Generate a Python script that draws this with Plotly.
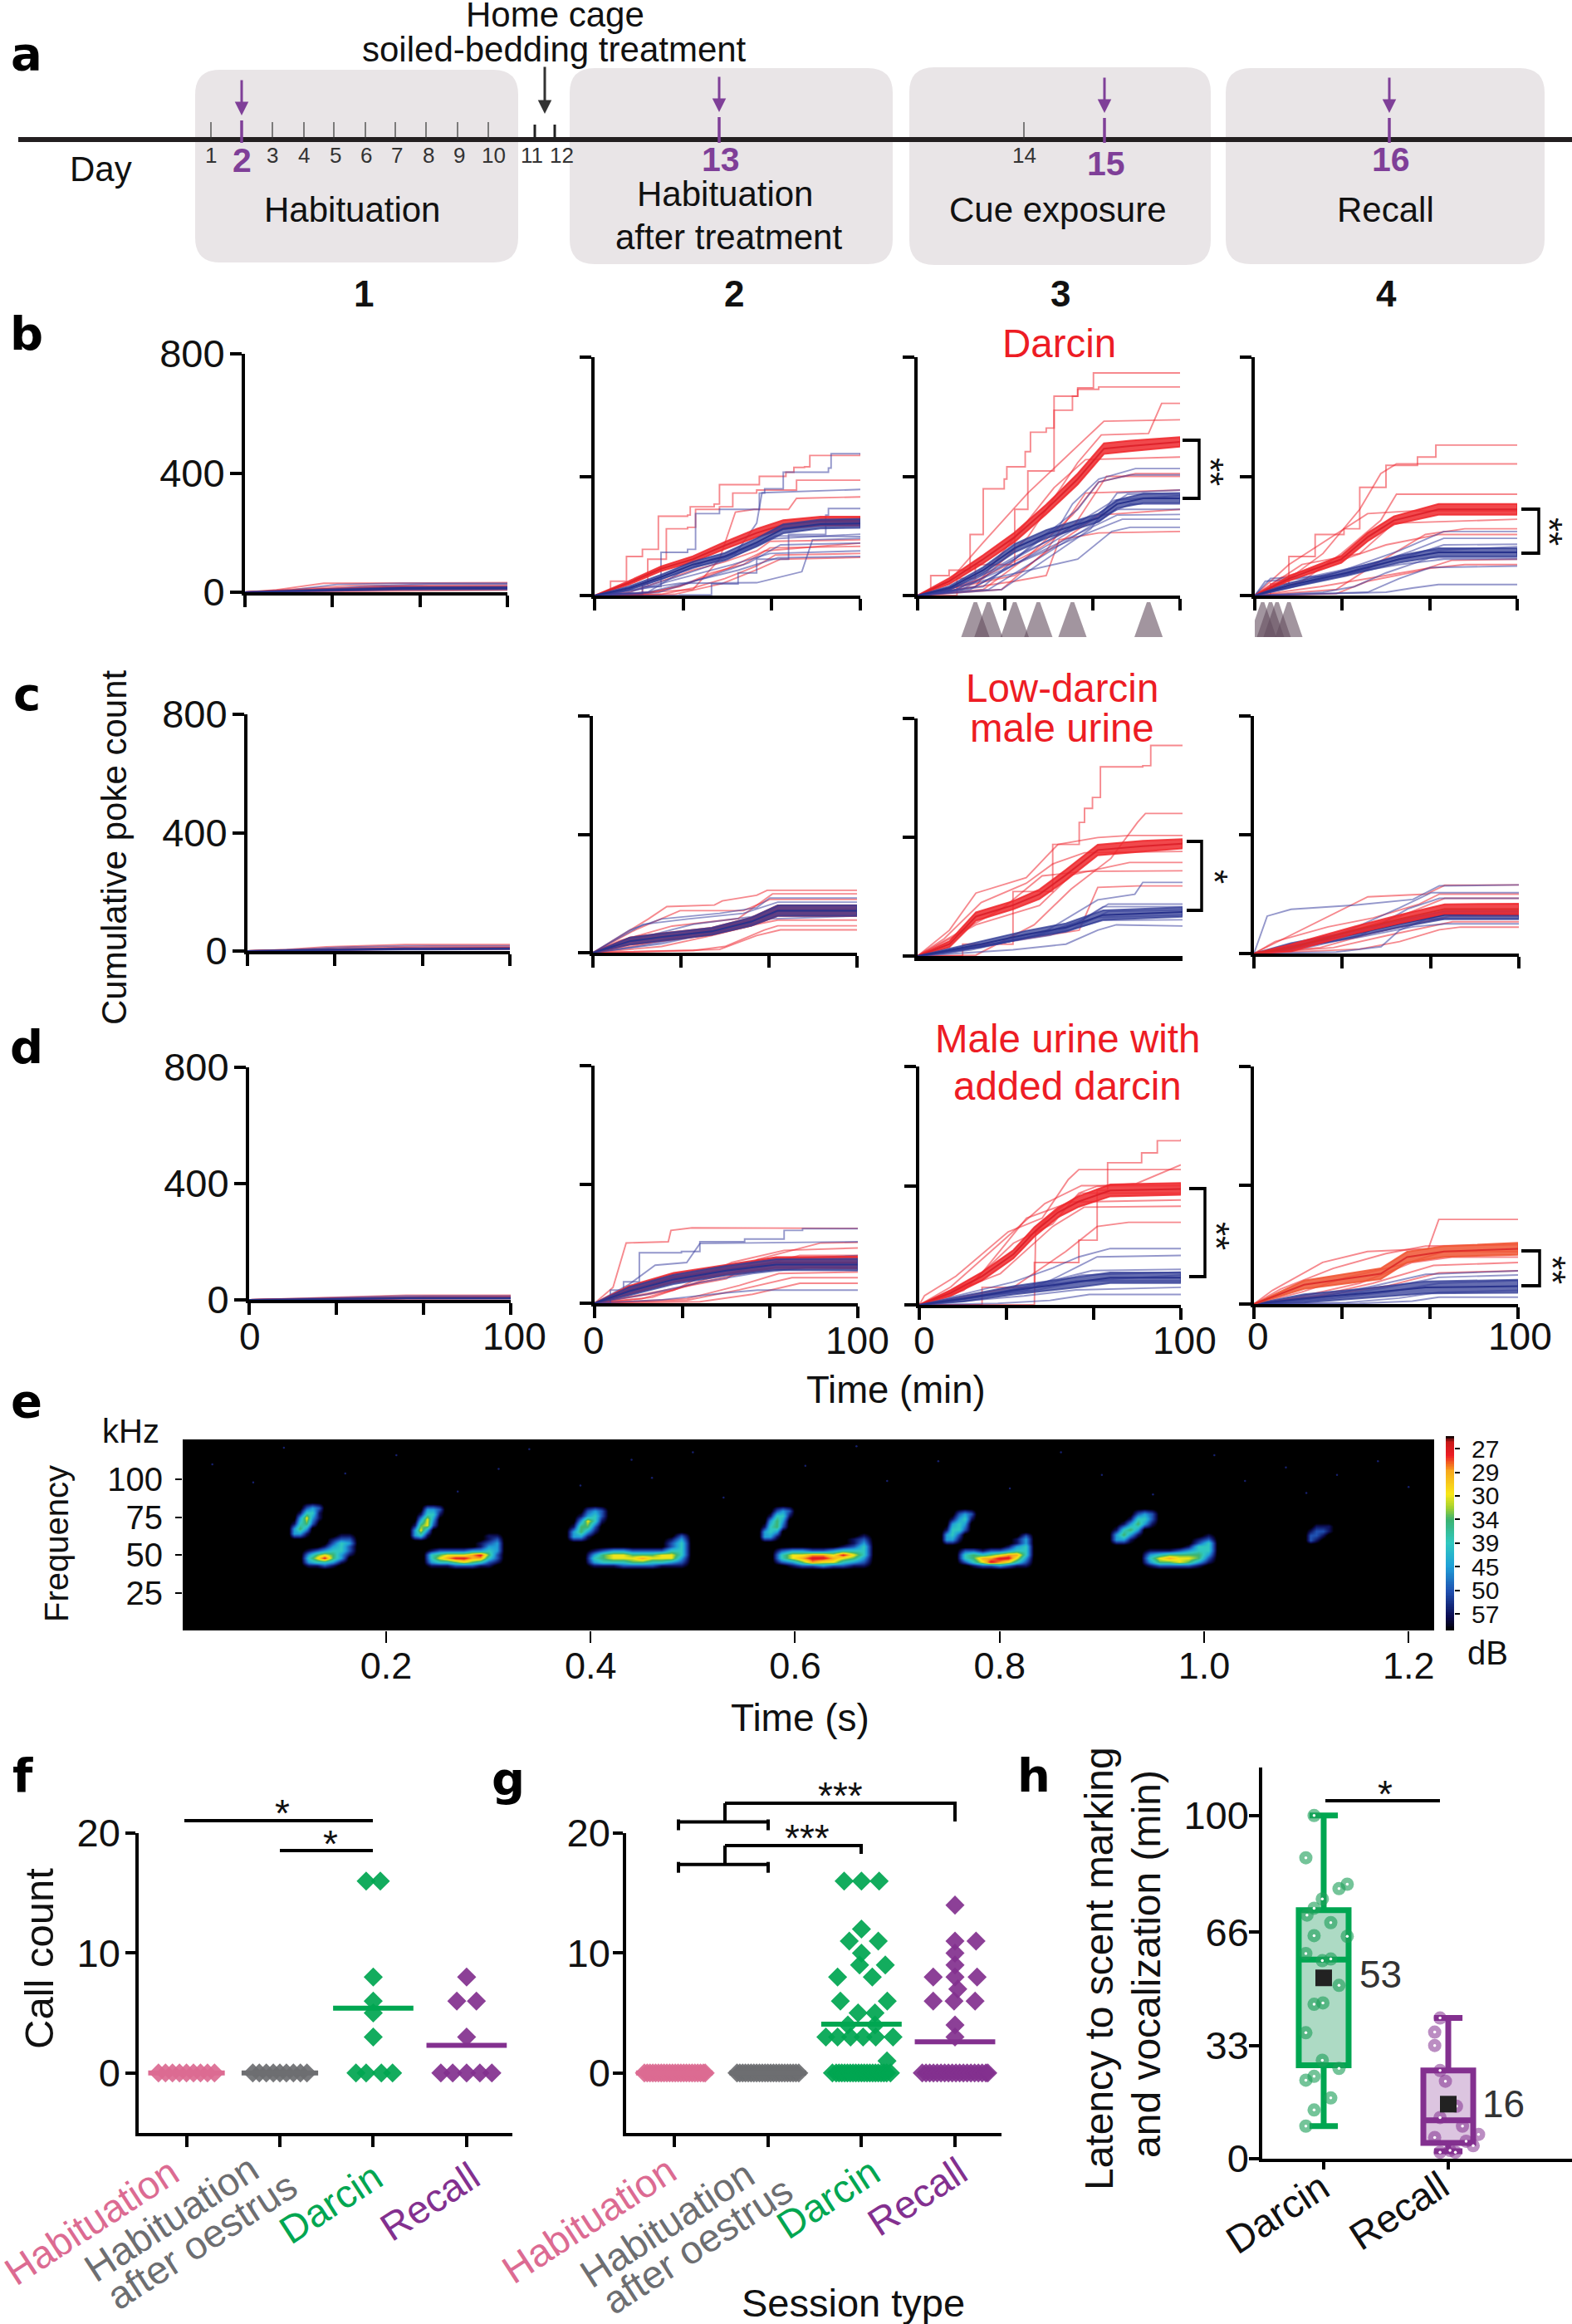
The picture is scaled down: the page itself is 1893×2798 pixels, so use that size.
import numpy as np
import plotly.graph_objs as go

W, H = 1893, 2798
FONT = 'Liberation Sans'

RED = 'rgba(238,40,50,0.55)'
BLUE = 'rgba(60,66,160,0.55)'
PURPLE = '#7f3f98'
PINK = '#dc6b92'
GRAY = '#6d6e71'
GREEN = '#00a651'
VIOLET = '#83308f'
TITLE_RED = '#ed1c24'

# --- panel a: days on the timeline
SMALL_DAYS = ['1', '3', '4', '5', '6', '7', '8', '9', '10', '14']
SESSION_DAYS = ['2', '13', '15', '16']
TREATMENT_DAYS = ['11', '12']

# --- panels b-d: cumulative poke count, (minute, count)
# every curve starts at the origin and stays flat after its last point
B1_RED = [[(12, 8), (30, 30), (100, 32)], [(20, 10), (40, 22), (100, 24)], [(25, 8), (50, 18)], [(30, 5), (60, 12)], [(40, 3), (80, 7)]]
B1_BLUE = [[(18, 8), (35, 26), (60, 30)], [(22, 6), (45, 20), (70, 27)], [(30, 7), (60, 14)], [(35, 4), (70, 10)]]
B1_MEAN_RED = [(0, 0, 0), (30, 8, 3), (60, 14, 4), (100, 15, 4)]
B1_MEAN_BLUE = [(0, 0, 0), (30, 7, 3), (60, 13, 4), (100, 14, 4)]

B2_RED = [
    [(6, 48), (12, 131), (18, 155), (24, 266), (35, 270), (36, 298), (45, 307), (47, 372), (61, 372), (62, 400), (72, 414), (75, 430), (79, 432), (81, 470), (100, 477)],
    [(18, 39), (20, 122), (27, 224), (35, 229), (38, 289), (47, 298), (52, 344), (61, 354), (73, 354), (76, 387), (100, 389)],
    [(37, 20), (47, 122), (53, 280), (60, 289), (73, 289), (76, 326), (100, 331)],
    [(13, 11), (25, 48), (37, 85), (49, 113), (61, 150), (66, 182), (100, 187)],
    [(18, 7), (32, 30), (44, 76), (56, 104), (66, 160), (100, 165)],
    [(25, 4), (37, 25), (49, 57), (61, 99), (68, 136), (100, 141)],
    [(20, 6), (35, 40), (50, 90), (64, 150), (100, 176)],
    [(30, 4), (48, 40), (62, 90), (70, 122), (100, 128)],
]
B2_BLUE = [
    [(3, 6), (18, 30), (25, 145), (35, 155), (38, 275), (47, 289), (62, 344), (64, 358), (71, 414), (88, 428), (89, 476), (100, 477)],
    [(20, 11), (32, 76), (44, 122), (53, 140), (61, 243), (63, 345), (100, 356)],
    [(32, 2), (44, 39), (54, 76), (61, 122), (73, 205), (87, 270), (88, 292), (100, 292)],
    [(32, 41), (61, 43), (78, 80), (82, 187), (100, 192)],
    [(13, 11), (32, 57), (52, 104), (66, 141), (100, 150)],
    [(20, 11), (37, 48), (54, 85), (69, 127), (100, 131)],
    [(15, 20), (30, 60), (50, 120), (66, 190), (100, 206)],
    [(24, 10), (42, 60), (58, 110), (70, 170), (100, 176)],
    [(10, 12), (30, 70), (50, 130), (68, 200), (100, 198)],
]
B2_MEAN_RED = [(0, 0, 0), (13, 43, 6), (25, 90, 8), (37, 122, 10), (49, 168, 12), (61, 210, 14), (71, 238, 15), (85, 250, 15), (100, 250, 15)]
B2_MEAN_BLUE = [(0, 0, 0), (13, 25, 6), (25, 62, 8), (37, 104, 10), (49, 131, 12), (61, 178, 14), (71, 224, 15), (85, 240, 15), (100, 242, 15)]

B3_RED = [
    [(5, 67), (12, 85), (20, 205), (25, 358), (33, 391), (34, 432), (41, 483), (43, 548), (49, 562), (52, 669), (61, 697), (67, 747), (100, 750)],
    [(15, 57), (22, 104), (37, 289), (42, 418), (52, 622), (59, 669), (61, 692), (69, 700), (100, 700)],
    [(25, 57), (42, 196), (61, 446), (70, 539), (88, 544), (93, 645), (100, 645)],
    [(12, 48), (25, 178), (42, 344), (61, 502), (71, 585), (100, 590)],
    [(22, 30), (37, 196), (52, 362), (64, 456), (100, 465)],
    [(25, 20), (42, 131), (59, 270), (69, 381), (83, 409), (100, 409)],
    [(32, 20), (49, 150), (64, 344), (100, 354)],
    [(37, 67), (54, 178), (69, 270), (100, 289)],
    [(37, 48), (49, 67), (54, 187), (69, 210), (100, 215)],
    [(20, 40), (45, 150), (60, 240), (72, 400), (100, 400)],
]
B3_BLUE = [
    [(17, 20), (37, 122), (54, 233), (59, 307), (69, 391), (83, 426), (100, 426)],
    [(25, 30), (42, 159), (61, 289), (69, 381), (81, 405), (100, 405)],
    [(32, 20), (49, 122), (66, 224), (76, 344), (100, 354)],
    [(42, 85), (61, 122), (74, 215), (81, 229), (100, 229)],
    [(27, 20), (44, 113), (61, 206), (76, 289), (100, 289)],
    [(12, 11), (32, 85), (56, 187), (76, 270), (100, 272)],
    [(20, 20), (37, 104), (61, 196), (78, 256), (100, 256)],
    [(15, 20), (37, 130), (61, 232), (81, 307), (100, 307)],
    [(10, 10), (30, 90), (55, 210), (75, 320), (100, 335)],
    [(22, 30), (44, 140), (63, 240), (80, 340), (100, 345)],
]
B3_MEAN_RED = [(0, 0, 0), (12, 48, 10), (25, 122, 14), (37, 196, 16), (49, 289, 16), (61, 391, 18), (71, 493, 18), (81, 502, 18), (100, 516, 16)]
B3_MEAN_BLUE = [(0, 0, 0), (12, 25, 6), (25, 85, 10), (37, 159, 14), (49, 206, 14), (69, 261, 14), (76, 307, 14), (86, 326, 16), (100, 326, 16)]

B4_RED = [
    [(6, 39), (13, 131), (23, 205), (34, 224), (40, 363), (50, 437), (62, 465), (69, 505), (100, 505)],
    [(9, 30), (26, 141), (40, 289), (48, 409), (54, 442), (100, 442)],
    [(18, 48), (33, 141), (48, 252), (54, 340), (100, 340)],
    [(13, 104), (43, 275), (60, 284), (100, 284)],
    [(18, 104), (40, 141), (53, 243), (100, 256)],
    [(31, 20), (45, 100), (65, 205), (80, 224), (100, 224)],
    [(10, 60), (30, 110), (50, 170), (70, 205), (100, 205)],
    [(31, 6), (43, 48), (62, 81), (75, 118), (100, 122)],
    [(25, 30), (45, 60), (65, 90), (80, 104), (100, 104)],
]
B4_BLUE = [
    [(31, 6), (50, 11), (60, 25), (70, 37), (100, 37)],
    [(9, 20), (31, 76), (55, 150), (72, 215), (100, 215)],
    [(13, 25), (38, 85), (60, 150), (72, 192), (100, 192)],
    [(4, 48), (18, 57), (43, 104), (65, 150), (100, 164)],
    [(26, 11), (38, 30), (50, 76), (67, 127), (100, 127)],
    [(43, 11), (55, 57), (67, 94), (100, 99)],
    [(6, 57), (31, 67), (55, 104), (72, 122), (100, 122)],
    [(12, 25), (35, 70), (58, 130), (72, 170), (100, 172)],
]
B4_MEAN_RED = [(0, 0, 0), (13, 57, 8), (33, 122, 12), (43, 196, 14), (53, 252, 14), (70, 289, 18), (100, 289, 18)]
B4_MEAN_BLUE = [(0, 0, 0), (13, 34, 8), (35, 76, 10), (55, 122, 12), (70, 145, 14), (100, 145, 14)]

C1_RED = [[(15, 5), (30, 14), (60, 22)], [(20, 4), (40, 12), (70, 16)], [(30, 3), (70, 9)]]
C1_BLUE = [[(18, 5), (35, 13), (60, 18)], [(30, 4), (60, 10)]]
C1_MEAN_RED = [(0, 0, 0), (30, 4, 2), (60, 8, 2), (100, 9, 2)]
C1_MEAN_BLUE = [(0, 0, 0), (30, 4, 2), (60, 7, 2), (100, 8, 2)]

C2_RED = [
    [(21, 114), (28, 156), (46, 161), (49, 175), (62, 194), (66, 211), (100, 211)],
    [(16, 77), (33, 142), (57, 142), (67, 180), (100, 180)],
    [(26, 21), (45, 58), (62, 96), (70, 110), (100, 110)],
    [(38, 7), (50, 21), (65, 77), (70, 91), (100, 91)],
    [(48, 11), (62, 58), (71, 77), (100, 77)],
    [(10, 40), (30, 90), (55, 115), (68, 199), (100, 199)],
    [(20, 30), (40, 70), (60, 110), (70, 145), (100, 145)],
]
C2_BLUE = [
    [(14, 77), (26, 114), (48, 133), (62, 152), (67, 185), (100, 185)],
    [(19, 96), (36, 114), (57, 133), (70, 171), (100, 171)],
    [(9, 30), (38, 96), (62, 124), (71, 161), (100, 161)],
    [(26, 30), (50, 77), (67, 114), (100, 124)],
    [(16, 20), (42, 60), (62, 100), (70, 140), (100, 150)],
]
C2_MEAN_RED = [(0, 0, 0), (14, 39, 12), (26, 53, 12), (45, 72, 12), (60, 105, 14), (70, 142, 18), (100, 142, 18)]
C2_MEAN_BLUE = [(0, 0, 0), (14, 39, 12), (26, 53, 12), (45, 72, 12), (60, 105, 14), (70, 142, 18), (100, 142, 18)]

C3_RED = [
    [(17, 40), (36, 217), (51, 376), (61, 450), (63, 497), (66, 534), (69, 637), (85, 641), (88, 709), (100, 709)],
    [(22, 3), (44, 105), (58, 226), (73, 329), (83, 450), (86, 480), (100, 480)],
    [(12, 87), (22, 212), (41, 264), (53, 376), (68, 399), (80, 406), (100, 406)],
    [(10, 58), (24, 180), (41, 245), (51, 310), (63, 348), (100, 352)],
    [(22, 105), (46, 170), (58, 273), (80, 315), (100, 315)],
    [(17, 87), (32, 160), (47, 270), (63, 285), (100, 287)],
    [(61, 87), (68, 231), (83, 236), (100, 236)],
]
C3_BLUE = [
    [(24, 30), (49, 87), (68, 189), (82, 208), (85, 248), (100, 248)],
    [(20, 20), (45, 70), (62, 120), (72, 175), (100, 175)],
    [(15, 20), (40, 60), (60, 110), (70, 166), (100, 166)],
    [(30, 40), (55, 90), (68, 130), (100, 138)],
    [(36, 21), (56, 40), (68, 87), (75, 105), (100, 101)],
    [(22, 30), (50, 70), (70, 120), (100, 122)],
    [(12, 10), (38, 55), (58, 90), (72, 150), (100, 155)],
]
C3_MEAN_RED = [(0, 0, 0), (12, 40, 10), (22, 133, 14), (36, 171, 14), (46, 208, 16), (56, 273, 18), (68, 357, 18), (85, 370, 18), (100, 378, 16)]
C3_MEAN_BLUE = [(0, 0, 0), (24, 40, 10), (41, 73, 12), (56, 96, 14), (70, 138, 16), (100, 148, 16)]

C4_RED = [
    [(26, 116), (43, 191), (65, 200), (72, 230), (100, 231)],
    [(8, 40), (28, 90), (45, 120), (62, 165), (70, 200), (100, 200)],
    [(18, 30), (38, 80), (55, 125), (72, 186), (100, 186)],
    [(25, 20), (45, 70), (65, 110), (74, 126), (100, 126)],
    [(30, 20), (50, 60), (66, 90), (75, 107), (100, 107)],
    [(40, 15), (55, 40), (70, 80), (78, 89), (100, 89)],
]
C4_BLUE = [
    [(5, 126), (14, 149), (38, 163), (60, 182), (70, 228), (100, 231)],
    [(14, 14), (36, 79), (55, 154), (67, 205), (100, 205)],
    [(20, 20), (40, 60), (58, 150), (70, 186), (100, 186)],
    [(31, 5), (48, 23), (55, 79), (65, 116), (100, 116)],
    [(15, 20), (40, 55), (60, 90), (72, 100), (100, 100)],
]
C4_MEAN_RED = [(0, 0, 0), (14, 19, 12), (38, 79, 12), (55, 116, 14), (72, 150, 16), (100, 150, 18)]
C4_MEAN_BLUE = [(0, 0, 0), (14, 25, 10), (38, 66, 10), (55, 100, 12), (72, 130, 14), (100, 130, 14)]

D1_RED = [[(15, 4), (30, 10), (60, 16)], [(20, 4), (45, 9), (70, 12)], [(30, 2), (70, 7)]]
D1_BLUE = [[(18, 4), (35, 9), (60, 14)], [(30, 3), (60, 9)]]
D1_MEAN_RED = [(0, 0, 0), (30, 3, 2), (60, 6, 2), (100, 7, 2)]
D1_MEAN_BLUE = [(0, 0, 0), (30, 3, 2), (60, 6, 2), (100, 6, 2)]

D2_RED = [
    [(7, 53), (12, 203), (28, 207), (29, 245), (37, 254), (100, 252)],
    [(50, 82), (62, 148), (86, 203), (100, 205)],
    [(30, 44), (52, 137), (72, 178), (100, 186)],
    [(22, 20), (42, 80), (60, 120), (78, 161), (100, 161)],
    [(35, 15), (55, 60), (70, 100), (100, 105)],
    [(35, 10), (55, 45), (75, 86), (100, 86)],
    [(40, 5), (60, 30), (78, 67), (100, 67)],
    [(18, 15), (40, 70), (62, 110), (80, 120), (100, 120)],
]
D2_BLUE = [
    [(6, 44), (11, 72), (17, 170), (33, 174), (40, 207), (57, 216), (72, 245), (79, 251), (100, 251)],
    [(13, 63), (23, 128), (35, 137), (40, 201), (100, 207)],
    [(12, 50), (30, 90), (50, 120), (70, 150), (100, 160)],
    [(20, 30), (40, 70), (60, 100), (80, 120), (100, 120)],
    [(25, 11), (50, 35), (62, 44), (100, 44)],
]
D2_MEAN_RED = [(0, 0, 0), (13, 44, 14), (30, 86, 16), (50, 114, 16), (69, 137, 18), (100, 137, 20)]
D2_MEAN_BLUE = [(0, 0, 0), (13, 40, 14), (30, 80, 16), (50, 110, 16), (69, 130, 18), (100, 130, 20)]

D3_RED = [
    [(24, 59), (44, 142), (61, 217), (68, 384), (72, 477), (85, 510), (91, 551), (100, 556)],
    [(2, 31), (14, 96), (34, 245), (47, 291), (57, 421), (61, 454), (100, 454)],
    [(17, 49), (36, 207), (51, 272), (61, 375), (68, 398), (83, 407), (100, 470)],
    [(22, 86), (41, 291), (58, 345), (100, 352)],
    [(31, 105), (51, 263), (63, 328), (100, 331)],
    [(36, 59), (56, 179), (68, 263), (80, 277), (100, 277)],
    [(12, 60), (30, 200), (48, 340), (62, 400), (100, 400)],
    [(44, 0), (44.5, 250), (50, 300), (62, 375), (100, 375)],
]
D3_BLUE = [
    [(36, 77), (51, 124), (61, 161), (73, 189), (100, 189)],
    [(41, 49), (51, 86), (68, 161), (100, 166)],
    [(30, 40), (50, 80), (66, 115), (100, 119)],
    [(25, 30), (45, 50), (62, 80), (100, 100)],
    [(20, 15), (40, 30), (60, 50), (100, 59)],
    [(30, 5), (50, 15), (65, 35), (100, 35)],
    [(15, 20), (35, 50), (60, 80), (100, 80)],
    [(22, 25), (44, 60), (62, 100), (100, 110)],
]
D3_MEAN_RED = [(0, 0, 0), (12, 40, 10), (24, 96, 14), (36, 170, 14), (44, 245, 16), (53, 310, 16), (61, 347, 18), (73, 384, 20), (100, 389, 20)]
D3_MEAN_BLUE = [(0, 0, 0), (17, 21, 10), (36, 49, 14), (61, 77, 18), (73, 91, 18), (100, 91, 18)]

D4_RED = [
    [(7, 46), (26, 140), (43, 177), (66, 186), (70, 285), (100, 285)],
    [(10, 50), (30, 120), (50, 170), (65, 195), (100, 200)],
    [(18, 40), (35, 90), (55, 130), (72, 177), (100, 177)],
    [(15, 20), (40, 70), (60, 140), (75, 158), (100, 158)],
    [(25, 30), (45, 70), (68, 130), (100, 140)],
    [(20, 20), (50, 60), (70, 105), (100, 112)],
]
D4_BLUE = [
    [(20, 15), (45, 60), (65, 100), (100, 112)],
    [(25, 20), (50, 55), (70, 90), (100, 98)],
    [(20, 10), (50, 40), (70, 70), (100, 79)],
    [(35, 5), (55, 20), (70, 40), (100, 46)],
    [(40, 2), (60, 10), (70, 23), (100, 23)],
]
D4_MEAN_RED = [(0, 0, 0), (19, 65, 14), (48, 102, 18), (58, 158, 18), (72, 177, 18), (100, 186, 20)]
D4_MEAN_BLUE = [(0, 0, 0), (19, 19, 14), (43, 37, 16), (65, 56, 20), (100, 60, 22)]

# arrowheads below the axes: cue exposure times (min)
B3_CUES = [22, 27, 37, 46, 59, 88]
B4_CUES = [3, 6, 8.5, 13]

# --- panel e: syllables as small level grids (1 = quiet .. 8 = loud)
LOWER_F = [43, 45.5, 48, 50.5, 53, 55.5, 58, 60.5, 63]
L1_T = [.124, .132, .140, .148, .156, .164]
L1_Z = [[1, 1, 2, 1, 0, 0], [3, 4, 4, 3, 1, 0], [4, 6, 8, 5, 3, 0], [3, 5, 6, 5, 3, 1], [1, 2, 3, 4, 4, 2],
        [0, 0, 1, 3, 4, 2], [0, 0, 0, 2, 4, 3], [0, 0, 0, 1, 2, 2], [0, 0, 0, 0, 1, 1]]
L2_T = [.244, .252, .26, .268, .276, .284, .292, .300, .308]
L2_Z = [[1, 1, 1, 2, 2, 2, 1, 1, 0], [3, 4, 4, 5, 6, 5, 4, 2, 1], [4, 6, 7, 8, 8, 7, 7, 4, 2], [4, 5, 6, 6, 6, 7, 8, 5, 2],
        [1, 2, 2, 2, 2, 3, 3, 4, 3], [0, 0, 0, 0, 0, 0, 1, 3, 3], [0, 0, 0, 0, 0, 0, 1, 2, 3], [0, 0, 0, 0, 0, 0, 0, 1, 2], [0, 0, 0, 0, 0, 0, 0, 1, 1]]
L3_T = [.403, .4125, .422, .4315, .441, .4505, .46, .4695, .479, .4885]
L3_Z = [[1, 1, 1, 2, 2, 2, 2, 1, 1, 1], [3, 4, 4, 4, 5, 5, 4, 4, 3, 2], [4, 5, 6, 6, 6, 7, 6, 6, 6, 3], [3, 5, 6, 6, 5, 5, 5, 6, 6, 4],
        [1, 2, 3, 3, 2, 2, 2, 2, 4, 4], [0, 0, 0, 0, 0, 0, 0, 0, 2, 4], [0, 0, 0, 0, 0, 0, 0, 0, 2, 4], [0, 0, 0, 0, 0, 0, 0, 0, 1, 3], [0, 0, 0, 0, 0, 0, 0, 0, 0, 2]]
L4_T = [.587, .597, .607, .617, .627, .637, .647, .657, .667]
L4_Z = [[0, 1, 2, 2, 3, 2, 2, 1, 1], [2, 3, 5, 7, 6, 6, 4, 3, 2], [4, 6, 7, 8, 8, 7, 6, 5, 3], [4, 6, 6, 7, 7, 6, 8, 6, 4],
        [2, 3, 3, 2, 2, 3, 4, 4, 4], [0, 0, 0, 0, 0, 0, 1, 2, 4], [0, 0, 0, 0, 0, 0, 0, 1, 3], [0, 0, 0, 0, 0, 0, 0, 1, 2], [0, 0, 0, 0, 0, 0, 0, 0, 1]]
L5_T = [.766, .7745, .783, .7915, .8, .8085, .817, .8255]
L5_Z = [[0, 1, 2, 2, 3, 2, 1, 1], [2, 4, 6, 8, 7, 6, 4, 2], [4, 5, 7, 7, 8, 8, 6, 3], [4, 5, 4, 5, 6, 7, 7, 4],
        [2, 2, 1, 2, 2, 3, 4, 4], [0, 0, 0, 0, 0, 1, 3, 4], [0, 0, 0, 0, 0, 0, 1, 3], [0, 0, 0, 0, 0, 0, 1, 3], [0, 0, 0, 0, 0, 0, 0, 2]]
L6_T = [.947, .9565, .966, .9755, .985, .9945, 1.004]
L6_Z = [[1, 2, 2, 2, 2, 1, 0], [3, 5, 5, 6, 5, 3, 1], [4, 6, 7, 6, 6, 5, 2], [3, 4, 5, 5, 5, 5, 3],
        [1, 1, 1, 2, 3, 4, 4], [0, 0, 0, 0, 1, 4, 4], [0, 0, 0, 0, 0, 2, 4], [0, 0, 0, 0, 0, 1, 2], [0, 0, 0, 0, 0, 0, 1]]
U1_T = [.110, .116, .122, .128, .134]
U1_F = [64, 67.5, 71, 74.5, 78, 81.5]
U1_Z = [[3, 3, 1, 0, 0], [3, 5, 3, 0, 0], [1, 4, 5, 2, 0], [0, 3, 6, 3, 1], [0, 1, 4, 4, 1], [0, 0, 2, 3, 2]]
U2_T = [.228, .234, .24, .246, .252]
U2_F = [63, 66.5, 70, 73.5, 77, 80.5]
U2_Z = [[3, 4, 1, 0, 0], [3, 6, 3, 0, 0], [1, 5, 6, 2, 0], [0, 3, 6, 3, 0], [0, 1, 4, 4, 1], [0, 0, 3, 3, 2]]
U3_T = [.383, .39, .397, .404, .411]
U3_F = [62, 65.5, 69, 72.5, 76, 79.5]
U3_Z = [[3, 3, 1, 0, 0], [3, 5, 3, 1, 0], [1, 5, 5, 2, 0], [0, 3, 6, 4, 1], [0, 1, 3, 4, 2], [0, 0, 2, 3, 2]]
U4_T = [.57, .576, .582, .588, .594]
U4_F = [62, 65.5, 69, 72.5, 76, 79.5]
U4_Z = [[3, 3, 1, 0, 0], [3, 4, 3, 0, 0], [1, 4, 5, 2, 0], [0, 3, 5, 3, 0], [0, 1, 4, 4, 1], [0, 0, 2, 3, 2]]
U5_T = [.748, .754, .76, .766, .772]
U5_F = [60, 63.5, 67, 70.5, 74, 77.5]
U5_Z = [[3, 3, 1, 0, 0], [3, 4, 2, 0, 0], [1, 4, 4, 2, 0], [0, 3, 4, 3, 0], [0, 1, 3, 4, 1], [0, 0, 2, 3, 2]]
U6_T = [.914, .921, .928, .935, .942, .949]
U6_F = [60, 63.5, 67, 70.5, 74, 77.5]
U6_Z = [[3, 3, 1, 0, 0, 0], [3, 5, 3, 1, 0, 0], [1, 4, 5, 3, 0, 0], [0, 1, 3, 5, 3, 1], [0, 0, 1, 4, 4, 2], [0, 0, 0, 2, 3, 2]]
U7_T = [1.104, 1.11, 1.116, 1.122]
U7_F = [60, 63, 66, 69]
U7_Z = [[2, 1, 0, 0], [2, 2, 1, 0], [1, 2, 2, 1], [0, 1, 1, 1]]
SPECK_T = [.03, .07, .1, .16, .21, .27, .31, .34, .39, .44, .46, .5, .53, .61, .66, .69, .74, .81, .86, .9, .95, 1.01, 1.04, 1.08, 1.1, 1.13, 1.17, 1.2]
SPECK_F = [110, 98, 121, 104, 116, 92, 107, 120, 96, 113, 101, 118, 88, 109, 122, 99, 112, 94, 118, 103, 90, 116, 99, 108, 91, 103, 112, 95]

# colour bar
DB_TICKS = ['57', '50', '45', '39', '34', '30', '29', '27']

# --- panels f, g: call counts, value and sideways offset of each diamond
SESSION_LABELS = ['Habituation', 'Habituation', 'after oestrus', 'Darcin', 'Recall']
F_HAB_OFFS = [-.3, -.225, -.15, -.075, 0, .075, .15, .225, .3]
F_HAB_VALS = [0, 0, 0, 0, 0, 0, 0, 0, 0]
F_OES_OFFS = [-.29, -.22, -.145, -.07, 0, .07, .145, .22, .29]
F_OES_VALS = [0, 0, 0, 0, 0, 0, 0, 0, 0]
F_DAR_OFFS = [-.076, .076, 0, 0, 0, 0, -.185, -.076, .087, .207]
F_DAR_VALS = [16, 16, 8, 6, 5, 3, 0, 0, 0, 0]
F_REC_OFFS = [0, -.105, .105, 0, -.276, -.149, 0, .142, .27]
F_REC_VALS = [8, 6, 6, 3, 0, 0, 0, 0, 0]
F_MEANS = [0, 0, 5.4, 2.3]

G_HAB_OFFS = [-.32, -.29, -.26, -.23, -.2, -.17, -.14, -.11, -.08, -.05, -.02, .01, .04, .07, .1, .13, .16, .19, .22, .25, .28, .31, .33]
G_HAB_VALS = [0] * 23
G_OES_OFFS = [-.33, -.3, -.27, -.24, -.21, -.18, -.15, -.12, -.09, -.06, -.03, 0, .03, .06, .09, .12, .15, .18, .21, .24, .27, .3, .33]
G_OES_VALS = [0] * 23
G_DAR_OFFS = [-.185, 0, .189, 0, -.13, .18, 0, -.02, .255, -.255, .116, -.225, .276, -.036, .145, -.145, .145, -.38, -.255, -.116, .018, .153, .338, .273,
              -.31, -.27, -.24, -.21, -.18, -.15, -.12, -.09, -.06, -.03, 0, .03, .06, .09, .12, .15, .18, .21, .24, .27, .31]
G_DAR_VALS = [16, 16, 16, 12, 11, 11, 10, 9, 9, 8, 8, 6, 6, 5, 5, 4, 4, 3, 3, 3, 3, 3, 3, 1,
              0, 0, 0, 0, 0, 0, 0, 0, 0, 0, 0, 0, 0, 0, 0, 0, 0, 0, 0, 0, 0]
G_REC_OFFS = [0, 0, .225, 0, 0, -.233, 0, .236, .03, -.233, -.01, .215, 0, 0,
              -.35, -.31, -.27, -.23, -.19, -.15, -.11, -.07, -.03, .01, .05, .09, .13, .17, .21, .25, .29, .33, .35]
G_REC_VALS = [14, 11, 11, 10, 9, 8, 8, 8, 7, 6, 6, 6, 4, 3,
              0, 0, 0, 0, 0, 0, 0, 0, 0, 0, 0, 0, 0, 0, 0, 0, 0, 0, 0]
G_MEANS = [0, 0, 4.07, 2.6]

# --- panel h: latency, box statistics and single animals
H_CATS = ['Darcin', 'Recall']
H_Q1 = [27.2, 4.6]
H_MEDIAN = [58, 11.2]
H_Q3 = [72.4, 25.7]
H_LOW = [9.5, 2.2]
H_HIGH = [100, 41]
H_MEAN = [52.7, 15.9]
H_DAR_OFFS = [-.077, -.143, .189, .123, -.011, -.077, -.134, .057, -.077, .189, -.143, -.011, .057, .123, -.077, -.006, -.143, -.011, .123, -.077, -.143, .057, -.077, -.143]
H_DAR_VALS = [100, 87.7, 80, 78.7, 75.7, 73, 71, 68.8, 65, 64.8, 59.8, 57.7, 58.2, 50.5, 45, 45.4, 36.7, 28.7, 26.3, 24, 22.9, 17.7, 14.2, 9.5]
H_REC_OFFS = [-.066, -.109, -.109, -.066, -.023, .066, -.066, .114, -.109, .243, .143, .2, .014, -.066, .057]
H_REC_VALS = [41, 36.9, 33, 25.7, 22.6, 15.3, 12, 9.5, 6.2, 7.1, 5.1, 3.8, 2.4, 1.9, 1.9]


def px(x):
    return x / W


def py(y):
    return 1 - y / H


annotations = []
shapes = []
fig = go.Figure()


def txt(x, y, s, size=42, color='#111111', bold=False, angle=0, family=FONT):
    if bold:
        s = f'<b>{s}</b>'
    annotations.append(dict(
        x=px(x), y=py(y), xref='paper', yref='paper', text=s, showarrow=False,
        font=dict(family=family, size=size, color=color),
        textangle=angle, xanchor='center', yanchor='middle'
    ))


def line(x0, y0, x1, y1, color='black', width=4):
    shapes.append(dict(
        type='line', xref='paper', yref='paper',
        x0=px(x0), y0=py(y0), x1=px(x1), y1=py(y1),
        line=dict(color=color, width=width)
    ))


def arrow(x, y0, y1, color):
    annotations.append(dict(
        x=px(x), y=py(y1), xref='paper', yref='paper', text='', showarrow=True,
        ax=0, ay=y0 - y1, arrowcolor=color, arrowwidth=3, arrowhead=2, arrowsize=1.1
    ))


def rounded(x0, y0, x1, y1, r, color):
    path = (
        f'M {px(x0 + r)},{py(y0)} L {px(x1 - r)},{py(y0)} Q {px(x1)},{py(y0)} {px(x1)},{py(y0 + r)} '
        f'L {px(x1)},{py(y1 - r)} Q {px(x1)},{py(y1)} {px(x1 - r)},{py(y1)} '
        f'L {px(x0 + r)},{py(y1)} Q {px(x0)},{py(y1)} {px(x0)},{py(y1 - r)} '
        f'L {px(x0)},{py(y0 + r)} Q {px(x0)},{py(y0)} {px(x0 + r)},{py(y0)} Z'
    )
    shapes.append(dict(type='path', xref='paper', yref='paper', path=path,
                       fillcolor=color, line=dict(width=0), layer='below'))


axis_count = 0
layout_axes = {}


def make_axes(x0, x1, y_top, y_bot, xopts, yopts):
    global axis_count
    axis_count += 1
    n = axis_count
    base = dict(showgrid=False, zeroline=False, fixedrange=True, ticks='outside', color='black', automargin=False,
                tickfont=dict(family=FONT, size=47, color='#111111'))
    xa = dict(base, domain=[px(x0), px(x1)], anchor=f'y{n}')
    xa.update(xopts)
    ya = dict(base, domain=[py(y_bot), py(y_top)], anchor=f'x{n}')
    ya.update(yopts)
    layout_axes[f'xaxis{n}'] = xa
    layout_axes[f'yaxis{n}'] = ya
    return f'x{n}', f'y{n}'


def curve_xy(curve):
    pts = [(0, 0)] + list(curve)
    if pts[-1][0] < 100:
        pts.append((100, pts[-1][1]))
    return [p[0] for p in pts], [p[1] for p in pts]


def draw_mean(mean, color_band, color_line, xa, ya):
    t = [m[0] for m in mean]
    upper = [m[1] + m[2] for m in mean]
    lower = [max(m[1] - m[2], 0) for m in mean]
    fig.add_trace(go.Scatter(x=t + t[::-1], y=upper + lower[::-1], mode='lines', fill='toself',
                             fillcolor=color_band, line=dict(color=color_band, width=2), xaxis=xa, yaxis=ya))
    fig.add_trace(go.Scatter(x=t, y=[m[1] for m in mean], mode='lines',
                             line=dict(color=color_line, width=2), xaxis=xa, yaxis=ya))


def draw_thin(curves, color, xa, ya):
    for c in curves:
        t, v = curve_xy(c)
        # the well-read curves keep their stairs, the sparse ones are just joined up
        shape = 'hv' if len(c) >= 8 else 'linear'
        fig.add_trace(go.Scatter(x=t, y=v, mode='lines', line=dict(color=color, width=1.9, shape=shape), xaxis=xa, yaxis=ya))


def draw_poke_panel(box, red, blue, mean_red, mean_blue, col, red_on_top=False, xticks=True, band_red='rgba(238,40,45,0.85)'):
    x0, x1, y_top, y_bot = box
    ylabels = ['0', '400', '800'] if col == 0 else ['', '', '']
    xa, ya = make_axes(
        x0, x1, y_top, y_bot,
        dict(range=[0, 100], tickvals=[0, 33.3, 66.7, 100], showticklabels=False,
             ticklen=14 if xticks else 0, tickwidth=4, showline=True, linewidth=4 if xticks else 6, linecolor='black'),
        dict(range=[0, 800], tickvals=[0, 400, 800], ticktext=ylabels,
             ticklen=14, tickwidth=4, showline=True, linewidth=4, linecolor='black', ticklabelstandoff=-3)
    )
    draw_thin(red, RED, xa, ya)
    draw_thin(blue, BLUE, xa, ya)
    if red_on_top:
        draw_mean(mean_blue, 'rgba(50,60,150,0.75)', 'rgba(40,50,140,1)', xa, ya)
        draw_mean(mean_red, band_red, 'rgba(220,40,40,0.9)', xa, ya)
    else:
        draw_mean(mean_red, band_red, 'rgba(220,30,40,0.9)', xa, ya)
        draw_mean(mean_blue, 'rgba(50,60,150,0.75)', 'rgba(40,50,140,1)', xa, ya)
    return xa, ya


def bracket(x0, x1, y0, y1):
    # square bracket opening to the left, as on the right of panels b-d
    line(x0, y0, x1, y0)
    line(x0, y1, x1, y1)
    line(x1, y0 - 2, x1, y1 + 2, width=3.5)


def cue_triangles(cues, xa, y_top, y_bot, half_width, color='rgba(100,78,95,0.6)'):
    for c in cues:
        path = (f'M {c - half_width},{py(y_bot)} L {c - half_width * .12},{py(y_top)} '
                f'L {c + half_width * .12},{py(y_top)} L {c + half_width},{py(y_bot)} Z')
        shapes.append(dict(type='path', xref=xa, yref='paper', path=path, fillcolor=color, line=dict(width=0)))


# panel a
rounded(235, 84, 624, 316, 30, '#e9e5e7')
rounded(686, 82, 1075, 318, 30, '#e9e5e7')
rounded(1095, 81, 1458, 319, 30, '#e9e5e7')
rounded(1476, 82, 1860, 318, 30, '#e9e5e7')
line(22, 168, W, 168, color='#231f20', width=6)

small_tick_x = [254, 328, 366, 402, 440, 476, 513, 551, 588, 1233]
small_label_x = [254, 328, 366, 404, 441, 478, 516, 553, 594, 1233]
for xt, xl, d in zip(small_tick_x, small_label_x, SMALL_DAYS):
    line(xt, 147, xt, 168, color='#333333', width=1.2)
    txt(xl, 187, d, size=26, color='#333333')
for xt, xl, d in zip([644, 668], [640, 676], TREATMENT_DAYS):
    line(xt, 150, xt, 168, color='#222222', width=3)
    txt(xl, 187, d, size=26, color='#333333')
session_x = [291, 866, 1330, 1673]
session_label_x = [291, 868, 1332, 1675]
session_label_y = [193, 192, 197, 192]
arrow_top = [95, 91, 92, 92]
for x, xl, yl, top, d in zip(session_x, session_label_x, session_label_y, arrow_top, SESSION_DAYS):
    line(x, top + 50, x, 172, color=PURPLE, width=3.5)
    arrow(x, top, top + 44, PURPLE)
    txt(xl, yl, d, size=41, color=PURPLE, bold=True)
arrow(656, 79, 137, '#333333')

txt(121, 204, 'Day')
txt(424, 252, 'Habituation')
txt(873, 234, 'Habituation')
txt(877, 285, 'after treatment')
txt(1274, 252, 'Cue exposure')
txt(1668, 252, 'Recall')
txt(668, 17, 'Home cage')
txt(667, 60, 'soiled-bedding treatment')
for x, d in zip([438, 884, 1277, 1669], ['1', '2', '3', '4']):
    txt(x, 354, d, size=44, bold=True)

for x, y, s in [(32, 65, 'a'), (32, 401, 'b'), (32, 835, 'c'), (32, 1260, 'd'), (32, 1686, 'e'),
                (27, 2137, 'f'), (612, 2141, 'g'), (1245, 2137, 'h')]:
    txt(x, y, s, size=56, bold=True, color='black', family='DejaVu Sans')

# panels b-d
draw_poke_panel((295, 611, 426, 713), B1_RED, B1_BLUE, B1_MEAN_RED, B1_MEAN_BLUE, 0)
draw_poke_panel((716, 1036, 430, 717), B2_RED, B2_BLUE, B2_MEAN_RED, B2_MEAN_BLUE, 1)
b3x, _ = draw_poke_panel((1105, 1421, 430, 717), B3_RED, B3_BLUE, B3_MEAN_RED, B3_MEAN_BLUE, 2)
b4x, _ = draw_poke_panel((1511, 1827, 430, 717), B4_RED, B4_BLUE, B4_MEAN_RED, B4_MEAN_BLUE, 3)
draw_poke_panel((298, 614, 860, 1145), C1_RED, C1_BLUE, C1_MEAN_RED, C1_MEAN_BLUE, 0)
draw_poke_panel((714, 1032, 862, 1147), C2_RED, C2_BLUE, C2_MEAN_RED, C2_MEAN_BLUE, 1)
draw_poke_panel((1105, 1424, 865, 1151), C3_RED, C3_BLUE, C3_MEAN_RED, C3_MEAN_BLUE, 2, xticks=False)
draw_poke_panel((1510, 1829, 862, 1148), C4_RED, C4_BLUE, C4_MEAN_RED, C4_MEAN_BLUE, 3, red_on_top=True)
draw_poke_panel((300, 615, 1285, 1565), D1_RED, D1_BLUE, D1_MEAN_RED, D1_MEAN_BLUE, 0)
draw_poke_panel((716, 1033, 1283, 1569), D2_RED, D2_BLUE, D2_MEAN_RED, D2_MEAN_BLUE, 1)
draw_poke_panel((1107, 1422, 1284, 1571), D3_RED, D3_BLUE, D3_MEAN_RED, D3_MEAN_BLUE, 2)
draw_poke_panel((1510, 1828, 1284, 1570), D4_RED, D4_BLUE, D4_MEAN_RED, D4_MEAN_BLUE, 3, red_on_top=True, band_red='rgba(240,85,50,0.85)')

cue_triangles(B3_CUES, b3x, 725, 767, 5.4)
cue_triangles(B4_CUES, b4x, 725, 767, 5.2)

# the tick labels of the bottom row do not sit quite under their ticks in the original
for x, y, s in [(301, 1609, '0'), (619, 1609, '100'), (715, 1614, '0'), (1032, 1614, '100'),
                (1113, 1614, '0'), (1426, 1614, '100'), (1515, 1609, '0'), (1830, 1609, '100')]:
    txt(x, y, s, size=46)

txt(1275, 413, 'Darcin', size=47.5, color=TITLE_RED)
txt(1279, 828, 'Low-darcin', size=47.5, color=TITLE_RED)
txt(1279, 876, 'male urine', size=47.5, color=TITLE_RED)
txt(1285, 1250, 'Male urine with', size=47.5, color=TITLE_RED)
txt(1285, 1307, 'added darcin', size=47.5, color=TITLE_RED)
txt(137, 1020, 'Cumulative poke count', size=42, angle=-90)
txt(1079, 1673, 'Time (min)', size=45.5)

bracket(1424, 1444, 530, 600)
txt(1458, 568, '**', size=44, angle=90)
bracket(1832, 1853, 613, 666)
txt(1866, 640, '**', size=44, angle=90)
bracket(1429, 1447, 1013, 1096)
txt(1463, 1055, '*', size=44, angle=90)
bracket(1432, 1451, 1431, 1537)
txt(1465, 1488, '**', size=44, angle=90)
bracket(1832, 1854, 1506, 1548)
txt(1870, 1529, '**', size=44, angle=90)

# panel e
shapes.append(dict(type='rect', xref='paper', yref='paper', x0=px(220), x1=px(1727), y0=py(1963), y1=py(1733),
                   fillcolor='black', line=dict(width=0), layer='below'))
ex, ey = make_axes(
    220, 1727, 1733, 1963,
    dict(range=[0.001, 1.225], tickvals=[.2, .4, .6, .8, 1.0, 1.2], ticktext=['0.2', '0.4', '0.6', '0.8', '1.0', '1.2'],
         ticklen=14, tickwidth=1.5, ticklabelstandoff=-11, tickfont=dict(family=FONT, size=45, color='#111111')),
    dict(range=[0, 126.5], tickvals=[25, 50, 75, 100], ticklen=8, tickwidth=1.5,
         tickfont=dict(family=FONT, size=40, color='#111111'), ticklabelstandoff=7)
)
fig.add_trace(go.Scatter(x=SPECK_T, y=SPECK_F, mode='markers', marker=dict(size=2.5, color='#16206e'), xaxis=ex, yaxis=ey))

cb_stops = [[0, '#000000'], [.07, '#0b0b50'], [.2, '#1f4fb0'], [.33, '#1fa0d8'], [.45, '#30c8c0'], [.57, '#3cb371'],
            [.63, '#a0d030'], [.7, '#f8e818'], [.82, '#f7a81c'], [.9, '#ed1c24'], [.97, '#c81818'], [1, '#000000']]

syllables = [(L1_T, LOWER_F, L1_Z), (L2_T, LOWER_F, L2_Z), (L3_T, LOWER_F, L3_Z), (L4_T, LOWER_F, L4_Z), (L5_T, LOWER_F, L5_Z), (L6_T, LOWER_F, L6_Z),
             (U1_T, U1_F, U1_Z), (U2_T, U2_F, U2_Z), (U3_T, U3_F, U3_Z), (U4_T, U4_F, U4_Z), (U5_T, U5_F, U5_Z), (U6_T, U6_F, U6_Z), (U7_T, U7_F, U7_Z)]
for t, f, z in syllables:
    # a quiet rim all round, so the smoothing fades out instead of stopping at the grid edge
    dt = t[1] - t[0]
    df = f[1] - f[0]
    t2 = [t[0] - dt] + list(t) + [t[-1] + dt]
    f2 = [f[0] - df] + list(f) + [f[-1] + df]
    fig.add_trace(go.Heatmap(x=t2, y=f2, z=np.pad(np.array(z), 1), colorscale=cb_stops, zmin=.3, zmax=8.53,
                             zsmooth='best', showscale=False, xaxis=ex, yaxis=ey))

cbx, cby = make_axes(
    1741, 1751, 1729, 1963,
    dict(range=[0, 1], showticklabels=False, ticks=''),
    dict(range=[.3, 8.53], tickvals=list(range(1, 9)), ticktext=DB_TICKS, side='right', ticklen=6, tickwidth=2,
         tickfont=dict(family=FONT, size=30, color='#111111'), ticklabelstandoff=8)
)
cb_levels = np.arange(.3, 8.56, .05)
fig.add_trace(go.Heatmap(x=[0.5], y=cb_levels, z=[[v] for v in cb_levels], colorscale=cb_stops,
                         zmin=.3, zmax=8.53, showscale=False, xaxis=cbx, yaxis=cby))

txt(157, 1723, 'kHz', size=40)
txt(68, 1859, 'Frequency', size=40, angle=-90)
txt(963, 2068, 'Time (s)', size=46)
txt(1791, 1990, 'dB', size=40)


# panels f, g
def draw_swarm_panel(box, x_range, groups, means, standoff):
    x0, x1, y_top, y_bot = box
    xa, ya = make_axes(
        x0, x1, y_top, y_bot,
        dict(range=x_range, tickvals=[1, 2, 3, 4], showticklabels=False, ticklen=13, tickwidth=3.5,
             showline=True, linewidth=3.5, linecolor='black'),
        dict(range=[-5, 20], tickvals=[0, 10, 20], ticklen=12, tickwidth=3.5,
             showline=True, linewidth=3.5, linecolor='black', ticklabelstandoff=standoff)
    )
    colors = [PINK, GRAY, GREEN, VIOLET]
    half_lines = [.41, .41, .43, .43]
    for i, (offs, vals) in enumerate(groups):
        fig.add_trace(go.Scatter(x=[i + 1 + o for o in offs], y=vals, mode='markers',
                                 marker=dict(symbol='diamond', size=15, color=colors[i], opacity=.92,
                                             line=dict(width=2.5, color=colors[i])),
                                 xaxis=xa, yaxis=ya))
        fig.add_trace(go.Scatter(x=[i + 1 - half_lines[i], i + 1 + half_lines[i]], y=[means[i], means[i]], mode='lines',
                                 line=dict(color=colors[i], width=6), xaxis=xa, yaxis=ya))


draw_swarm_panel((167, 617, 2207, 2568), [.488, 4.49],
                 [(F_HAB_OFFS, F_HAB_VALS), (F_OES_OFFS, F_OES_VALS), (F_DAR_OFFS, F_DAR_VALS), (F_REC_OFFS, F_REC_VALS)], F_MEANS, -3)
draw_swarm_panel((754, 1206, 2207, 2568), [.485, 4.497],
                 [(G_HAB_OFFS, G_HAB_VALS), (G_OES_OFFS, G_OES_VALS), (G_DAR_OFFS, G_DAR_VALS), (G_REC_OFFS, G_REC_VALS)], G_MEANS, -6)

label_colors = [PINK, GRAY, GRAY, GREEN, VIOLET]
for (x, y), s, c in zip([(110, 2674), (206, 2670), (243, 2697), (398, 2652), (517, 2650)], SESSION_LABELS, label_colors):
    txt(x, y, s, size=47, color=c, angle=-33)
for (x, y), s, c in zip([(709, 2672), (803, 2677), (839, 2703), (997, 2646), (1104, 2644)], SESSION_LABELS, label_colors):
    txt(x, y, s, size=47, color=c, angle=-33)
txt(47, 2358, 'Call count', size=49, angle=-90)
txt(1027, 2772, 'Session type', size=47)

line(222, 2192, 449, 2192)
line(337, 2228, 449, 2228)
txt(340, 2183, '*', size=46)
txt(398, 2220, '*', size=46)

for a, b, c, d in [(817, 925, 2193.5, 2171), (817, 925, 2244.7, 2222)]:
    line(a, c, b, c)
    line(a, c - 3, a, c + 10)
    line(b, c - 3, b, c + 10)
    line(873, c, 873, d)
line(873, 2171, 1150, 2171)
line(1150, 2169, 1150, 2193)
line(873, 2222, 1037, 2222)
line(1037, 2220, 1037, 2232)
txt(1012, 2162, '***', size=46)
txt(972, 2213, '***', size=46)

# panel h
hx, hy = make_axes(
    1520, 1893, 2128, 2599,
    dict(range=[.507, 2.993], tickvals=[1, 2], showticklabels=False, ticklen=9, tickwidth=3.5,
         showline=True, linewidth=3.5, linecolor='black'),
    dict(range=[0, 114], tickvals=[0, 33, 66, 100], ticklen=12, tickwidth=3.5,
         showline=True, linewidth=3.5, linecolor='black', ticklabelstandoff=-9)
)
for i, (color, fill) in enumerate([(GREEN, 'rgba(0,140,70,0.32)'), (VIOLET, 'rgba(131,48,143,0.28)')]):
    fig.add_trace(go.Box(x=[i + 1], q1=[H_Q1[i]], median=[H_MEDIAN[i]], q3=[H_Q3[i]], lowerfence=[H_LOW[i]], upperfence=[H_HIGH[i]],
                         width=.4, whiskerwidth=.57, fillcolor=fill, line=dict(color=color, width=7), boxpoints=False,
                         xaxis=hx, yaxis=hy))
for i, (offs, vals, color) in enumerate([(H_DAR_OFFS, H_DAR_VALS, 'rgba(30,160,90,0.62)'), (H_REC_OFFS, H_REC_VALS, 'rgba(131,48,143,0.55)')]):
    xs = [i + 1 + o for o in offs]
    fig.add_trace(go.Scatter(x=xs, y=vals, mode='markers', marker=dict(size=16, color=color, line=dict(width=0)), xaxis=hx, yaxis=hy))
    fig.add_trace(go.Scatter(x=xs, y=vals, mode='markers', marker=dict(size=3.5, color='white', line=dict(width=0)), xaxis=hx, yaxis=hy))
fig.add_trace(go.Scatter(x=[1, 2], y=H_MEAN, mode='markers', marker=dict(symbol='square', size=20, color='#222222', line=dict(width=0)), xaxis=hx, yaxis=hy))

line(1596, 2168, 1734, 2168)
txt(1668, 2160, '*', size=46)
txt(1662, 2377, '53', size=46, color='#333333')
txt(1810, 2533, '16', size=46, color='#333333')
txt(1538, 2664, H_CATS[0], size=47, angle=-33)
txt(1684, 2661, H_CATS[1], size=47, angle=-33)
txt(1323, 2370, 'Latency to scent marking', size=48, angle=-90)
txt(1380, 2365, 'and vocalization (min)', size=48, angle=-90)

fig.update_layout(
    width=W, height=H, margin=dict(l=0, r=0, t=0, b=0, autoexpand=False), autosize=False,
    plot_bgcolor='rgba(0,0,0,0)', paper_bgcolor='white', showlegend=False,
    annotations=annotations, shapes=shapes, **layout_axes
)
fig.write_html("out.html", config={'displayModeBar': False},
               post_script="document.body.style.margin='0';document.body.style.overflow='hidden';")
